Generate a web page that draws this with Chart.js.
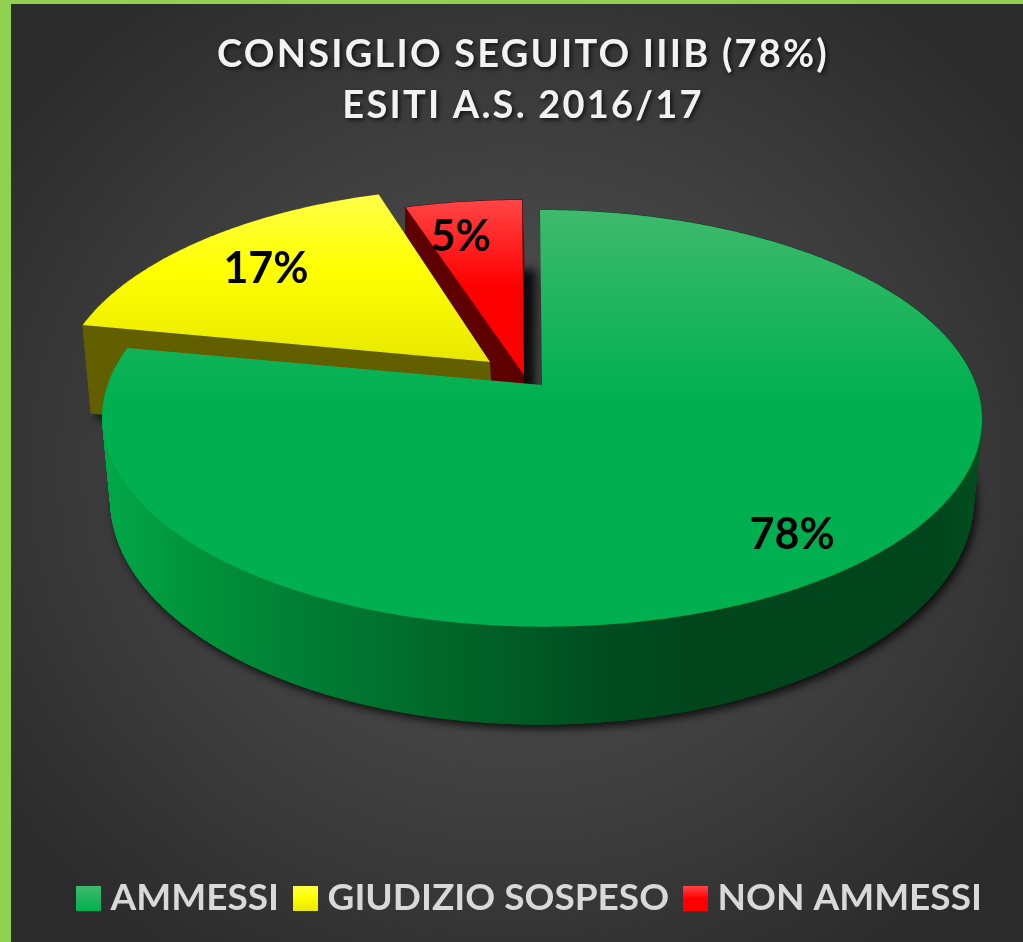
<!DOCTYPE html>
<html>
<head>
<meta charset="utf-8">
<title>Consiglio seguito IIIB</title>
<script src="https://cdn.jsdelivr.net/npm/chart.js@4/dist/chart.umd.min.js"></script>
<style>
  html, body { margin: 0; padding: 0; background: #2b2b2b; overflow: hidden; }
  #wrap { position: relative; width: 1023px; height: 942px;
    background: radial-gradient(ellipse 640px 590px at 515px 470px, #585858 0%, #2b2b2b 100%); }
  #wrap canvas { position: absolute; left: 0; top: 0; }
  .edge { position: absolute; background: #92D050; }
</style>
</head>
<body>
<div id="wrap">
  <canvas id="chart" width="1023" height="942"></canvas>
  <div class="edge" style="left:0;top:0;width:1023px;height:4px"></div>
  <div class="edge" style="left:0;top:0;width:11px;height:942px"></div>
</div>
<script>
// Data
const categories = ['AMMESSI', 'GIUDIZIO SOSPESO', 'NON AMMESSI'];
const seriesValues = [78, 17, 5];
const titleLines = ['CONSIGLIO SEGUITO IIIB (78%)', 'ESITI A.S. 2016/17'];

// Perspective of the pie: top and bottom disk
const topDisk = { cx: 542, cy: 385, a: 434, b: 203, k: 0.16, s: 2 };
const botDisk = { cx: 542, cy: 472, a: 428, b: 221, k: 0.124, s: 0 };
// How far each slice is pulled out, in px (top face, bottom face)
const explode = [[0, 0], [-45, -23], [-18, -10]];
const explodeBot = [[0, 0], [-40, -18], [-18, -10]];
const apexShift = [0, -7, 0];
const labelPos = [0.83, 0.76, 0.77];
const labelShift = [[-7, 6], [-1, 2], [-15, 0]];

const faceStops = [
  [[0, '#3fba6c'], [1, '#00b050']],
  [[0, '#ffff45'], [0.45, '#ffff00'], [1, '#e8e800']],
  [[0, '#ff4545'], [0.5, '#ff0000'], [1, '#ff0000']],
];
const faceRange = [[208, 400], [197, 361], [200, 373]];
const wallColors = [null, '#615f00', '#5c0000'];

function project(d, u, v) {
  const w = 1 - d.k * v;
  return [d.cx + d.a * u / w + d.s * v, d.cy + d.b * v / w];
}

// Wedge outline between two chart angles
function wedge(ctx, d, start, end, off, apexX) {
  const c = project(d, 0, 0);
  ctx.beginPath();
  ctx.moveTo(c[0] + off[0] + apexX, c[1] + off[1]);
  const n = Math.ceil((end - start) / 0.01);
  for (let i = 0; i <= n; i++) {
    const a = start + (end - start) * i / n;
    const p = project(d, Math.cos(a), Math.sin(a));
    ctx.lineTo(p[0] + off[0], p[1] + off[1]);
  }
  ctx.closePath();
}

function vGrad(c, y0, y1, stops) {
  const g = c.createLinearGradient(0, y0, 0, y1);
  stops.forEach(s => g.addColorStop(s[0], s[1]));
  return g;
}

function greenWall(ctx) {
  const g = ctx.createLinearGradient(105, 0, 980, 0);
  g.addColorStop(0, '#00a848');
  g.addColorStop(0.11, '#009238');
  g.addColorStop(0.22, '#007f36');
  g.addColorStop(0.37, '#006a2a');
  g.addColorStop(0.51, '#005523');
  g.addColorStop(0.57, '#004d20');
  g.addColorStop(0.68, '#00451c');
  g.addColorStop(0.95, '#00451c');
  g.addColorStop(1, '#004f20');
  return g;
}

// Small gradient square used as the legend marker
function legendBox(i) {
  const c = document.createElement('canvas');
  c.width = 25;
  c.height = 25;
  const x = c.getContext('2d');
  x.fillStyle = vGrad(x, 0, 25, faceStops[i]);
  x.fillRect(0, 0, 25, 25);
  return c;
}

const pie3d = {
  id: 'pie3d',
  // The library lays the arcs out; here they are projected to the 3D view
  beforeDatasetsDraw(chart) {
    const ctx = chart.ctx;
    const arcs = chart.getDatasetMeta(0).data;

    ctx.save();
    // ground shadow
    arcs.forEach((arc, i) => {
      ctx.save();
      ctx.shadowColor = 'rgba(0,0,0,0.85)';
      ctx.shadowBlur = 10;
      ctx.shadowOffsetX = i === 2 ? 12 : 3;
      ctx.shadowOffsetY = 4;
      ctx.fillStyle = '#1c1c1c';
      wedge(ctx, botDisk, arc.startAngle, arc.endAngle, explodeBot[i], 0);
      ctx.fill();
      ctx.restore();
    });

    // back to front: red, yellow, green
    [2, 1, 0].forEach(i => {
      const arc = arcs[i];
      const off = explode[i];
      const offB = explodeBot[i];
      const wall = i === 0 ? greenWall(ctx) : wallColors[i];
      ctx.fillStyle = wall;
      ctx.strokeStyle = wall;
      ctx.lineWidth = 1;
      wedge(ctx, botDisk, arc.startAngle, arc.endAngle, offB, apexShift[i]);
      ctx.fill();

      // rim wall
      const n = Math.ceil((arc.endAngle - arc.startAngle) / 0.01);
      for (let s = 0; s < n; s++) {
        const a0 = arc.startAngle + (arc.endAngle - arc.startAngle) * s / n;
        const a1 = arc.startAngle + (arc.endAngle - arc.startAngle) * (s + 1) / n;
        const t0 = project(topDisk, Math.cos(a0), Math.sin(a0));
        const t1 = project(topDisk, Math.cos(a1), Math.sin(a1));
        const b0 = project(botDisk, Math.cos(a0), Math.sin(a0));
        const b1 = project(botDisk, Math.cos(a1), Math.sin(a1));
        ctx.beginPath();
        ctx.moveTo(t0[0] + off[0], t0[1] + off[1]);
        ctx.lineTo(t1[0] + off[0], t1[1] + off[1]);
        ctx.lineTo(b1[0] + offB[0], b1[1] + offB[1]);
        ctx.lineTo(b0[0] + offB[0], b0[1] + offB[1]);
        ctx.closePath();
        ctx.fill();
        ctx.stroke();
      }

      // radial wall at the start edge
      if (i > 0) {
        const u = Math.cos(arc.startAngle), v = Math.sin(arc.startAngle);
        const t = project(topDisk, 0, 0), b = project(botDisk, 0, 0);
        const pts = [
          [[t[0] + apexShift[i], t[1]], off], [project(topDisk, u, v), off],
          [project(botDisk, u, v), offB], [[b[0] + apexShift[i], b[1]], offB],
        ];
        ctx.beginPath();
        pts.forEach(([p, o], j) => {
          if (j === 0) ctx.moveTo(p[0] + o[0], p[1] + o[1]);
          else ctx.lineTo(p[0] + o[0], p[1] + o[1]);
        });
        ctx.closePath();
        ctx.fill();
      }

      // top face
      ctx.fillStyle = vGrad(ctx, faceRange[i][0], faceRange[i][1], faceStops[i]);
      wedge(ctx, topDisk, arc.startAngle, arc.endAngle, off, apexShift[i]);
      ctx.fill();
    });

    // percent labels
    ctx.fillStyle = '#000';
    ctx.font = 'bold 43px Lato';
    ctx.textAlign = 'center';
    ctx.textBaseline = 'middle';
    arcs.forEach((arc, i) => {
      const mid = (arc.startAngle + arc.endAngle) / 2;
      const r = labelPos[i];
      const p = project(topDisk, r * Math.cos(mid), r * Math.sin(mid));
      ctx.fillText(seriesValues[i] + '%', p[0] + explode[i][0] + labelShift[i][0], p[1] + explode[i][1] + labelShift[i][1]);
    });
    ctx.restore();
    return false;
  },
  // Title spacing/shadow and legend nudge
  beforeDraw(chart) {
    if (chart.$wrapped) return;
    chart.$wrapped = true;
    const t = chart.titleBlock, l = chart.legend;
    const drawT = t.draw.bind(t), drawL = l.draw.bind(l);
    t.draw = () => {
      const ctx = chart.ctx;
      ctx.save();
      ctx.letterSpacing = '2.2px';
      ctx.shadowColor = 'rgba(0,0,0,0.7)';
      ctx.shadowBlur = 4;
      ctx.shadowOffsetX = 2;
      ctx.shadowOffsetY = 2;
      drawT();
      ctx.restore();
    };
    l.draw = () => {
      const ctx = chart.ctx;
      ctx.save();
      ctx.translate(10, 0);
      drawL();
      ctx.restore();
    };
  },
};

const canvas = document.getElementById('chart');

new Chart(canvas, {
  type: 'pie',
  data: {
    labels: categories,
    datasets: [{
      data: seriesValues,
      backgroundColor: ['#00b050', '#ffff00', '#ff0000'],
      borderWidth: 0,
    }],
  },
  plugins: [pie3d],
  options: {
    responsive: false,
    animation: false,
    events: [],
    layout: { padding: { left: 23, top: 29, bottom: 15 } },
    plugins: {
      tooltip: { enabled: false },
      title: {
        display: true,
        text: titleLines,
        color: '#f2f2f2',
        font: { family: 'Lato', weight: 'bold', size: 38, lineHeight: 1.34 },
        padding: 0,
      },
      legend: {
        position: 'bottom',
        labels: {
          usePointStyle: true,
          pointStyleWidth: 8,
          boxHeight: 25,
          padding: 22,
          color: '#d9d9d9',
          font: { family: 'Lato', weight: 'bold', size: 37 },
          generateLabels: chart => categories.map((c, i) => ({
            text: c,
            pointStyle: legendBox(i),
            fontColor: '#d9d9d9',
            lineWidth: 0,
            index: i,
          })),
        },
      },
    },
  },
});
</script>
</body>
</html>
